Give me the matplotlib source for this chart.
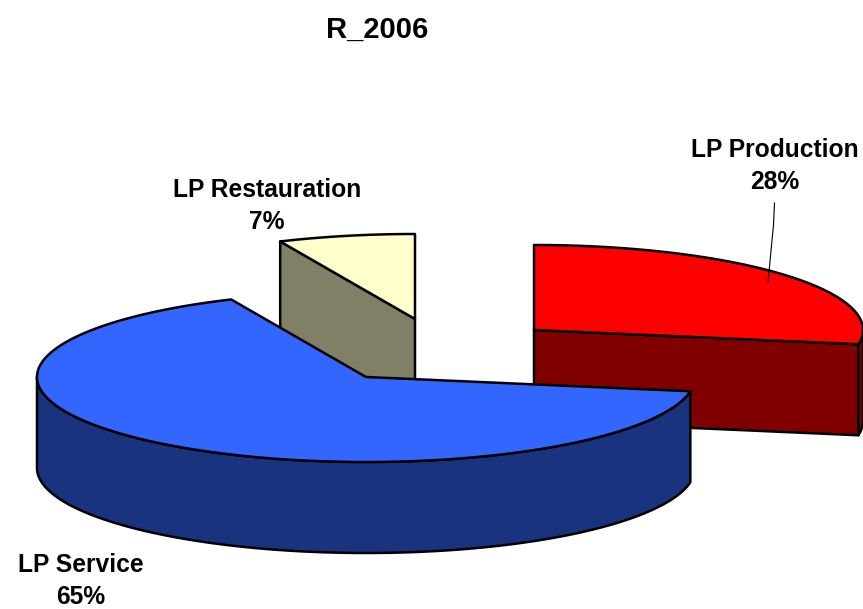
import numpy as np
import matplotlib
matplotlib.use("Agg")
import matplotlib.pyplot as plt
from matplotlib.patches import Polygon

title = "R_2006"
categories = ["LP Production", "LP Service", "LP Restauration"]
values = [27.6, 65.4, 6.7]
top_colors = ["#FF0000", "#3366FF", "#FFFFCC"]
side_colors = ["#800000", "#1A337F", "#808066"]

plt.rcParams["font.family"] = ["Liberation Sans", "DejaVu Sans"]
W, H = 863, 609
fig = plt.figure(figsize=(W / 100, H / 100), dpi=100)
ax = fig.add_axes([0, 0, 1, 1])
ax.set_xlim(0, W)
ax.set_ylim(H, 0)
ax.axis("off")

RX, RY, DEPTH = 329, 85, 91
# apex of each exploded slice, in figure pixels
apex = [(534, 330), (366, 377), (415, 319)]
fr = np.array(values) / sum(values) * 360
starts = np.concatenate([[0], np.cumsum(fr)[:-1]])
ends = np.cumsum(fr)

def pt(c, a):
    a = np.radians(a)
    return np.column_stack([c[0] + RX * np.sin(a), c[1] - RY * np.cos(a)])

def arc(c, a0, a1):
    return pt(c, np.linspace(a0, a1, 200))

def poly(xy, color, z):
    ax.add_patch(Polygon(xy, closed=True, fc=color, ec="black", lw=1.8, joinstyle="round", zorder=z))

down = np.array([0, DEPTH])
z = 1
for i in [2, 0, 1]:
    c = apex[i]
    a0, a1 = starts[i], ends[i]
    # visible flat cut faces
    if i == 2:
        e = pt(c, a0)[0]
        poly(np.array([e, c, np.array(c) + down, e + down]), side_colors[i], z)
    if i == 0:
        e = pt(c, a1)[0]
        poly(np.array([c, e, e + down, np.array(c) + down]), side_colors[i], z)
    # outer rim: the part of the arc on the front half
    lo, hi = max(a0, 90), min(a1, 270)
    if hi > lo:
        a = arc(c, lo, hi)
        poly(np.vstack([a, (a + down)[::-1]]), side_colors[i], z)
    top = np.vstack([[c], arc(c, a0, a1)])
    poly(top, top_colors[i], z + 1)
    z += 2

# labels
ax.text(377, 30, title, ha="center", va="center", fontsize=21, fontweight="bold")
labels = [(775, 166), (267, 206), (81, 581)]
order = [0, 2, 1]
for (x, y), i in zip(labels, order):
    ax.text(x, y, f"{categories[i]}\n{values[i]:.0f}%", ha="center", va="center",
            fontsize=17.7, fontweight="bold", linespacing=1.45, zorder=10)
ax.plot([774.5, 773.5, 768], [203, 225, 282], color="black", lw=0.8, zorder=10)

fig.savefig("out.png", dpi=100)
